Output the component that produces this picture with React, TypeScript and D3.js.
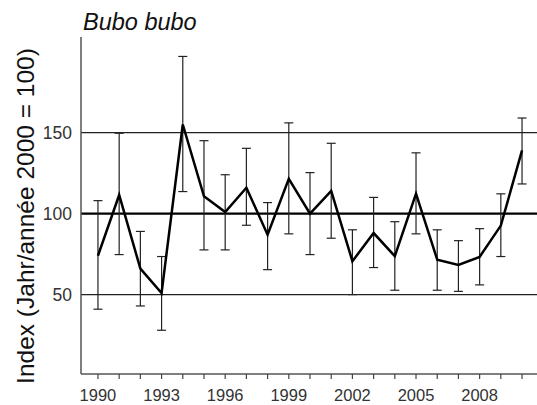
import React from "react";
import * as d3 from "d3";

const years = d3.range(1990, 2011);
const indexValues = [74, 111.5, 66, 51, 155, 110.7, 101, 116, 87, 121.5, 100, 114, 70.6, 88, 73.7, 112.3, 71.6, 68.3, 73.3, 92.6, 139];
const upperValues = [108, 149.6, 89, 73.5, 197, 145, 124, 140.3, 106.8, 156, 125.3, 143.4, 90, 110, 95, 137.5, 90, 83.3, 90.7, 112.2, 159];
const lowerValues = [41, 74.7, 43, 28, 113.6, 77.6, 77.6, 92.8, 65.4, 87.5, 74.7, 84.8, 50, 66.7, 52.7, 87.5, 52.7, 52, 56, 73.5, 118.3];
const yTicks = [50, 100, 150];
const xLabelYears = [1990, 1993, 1996, 1999, 2002, 2005, 2008];
const title = "Bubo bubo";
const yLabel = "Index (Jahr/année 2000 = 100)";

const W = 537;
const H = 405;
const left = 81;
const right = 539;
const top = 37;
const bottom = 374;
const font = "'Liberation Sans', Arial, sans-serif";

export default function App() {
  const x = d3.scalePoint<number>().domain(years).range([left, right]).padding(0.8);
  const y = d3.scaleLinear().domain([1, 209]).range([bottom, top]);
  const line = d3
    .line<number>()
    .x((_, i) => x(years[i]) as number)
    .y((d) => y(d));

  return (
    <div style={{ position: "absolute", left: 0, top: 0 }}>
      <svg width={W} height={H} style={{ display: "block", background: "#fff" }}>
        {yTicks.map((t) => (
          <line
            key={t}
            x1={left}
            x2={W}
            y1={y(t)}
            y2={y(t)}
            stroke={t === 100 ? "#000" : "#222"}
            strokeWidth={t === 100 ? 2.4 : 1.1}
          />
        ))}
        <line x1={left} x2={left} y1={top} y2={bottom} stroke="#555" strokeWidth={1.5} />
        <line x1={left} x2={W} y1={bottom} y2={bottom} stroke="#555" strokeWidth={1.5} />
        {years.map((yr) => (
          <line key={yr} x1={x(yr)} x2={x(yr)} y1={bottom} y2={bottom + 5} stroke="#444" strokeWidth={1.2} />
        ))}
        {xLabelYears.map((yr) => (
          <text
            key={yr}
            x={x(yr)}
            y={401}
            textAnchor="middle"
            fontFamily={font}
            fontSize={16.5}
            fill="#333"
          >
            {yr}
          </text>
        ))}
        {yTicks.map((t) => (
          <text
            key={t}
            x={72}
            y={y(t)}
            dy="0.35em"
            textAnchor="end"
            fontFamily={font}
            fontSize={17.5}
            fill="#333"
          >
            {t}
          </text>
        ))}
        {years.map((yr, i) => {
          const cx = x(yr) as number;
          return (
            <g key={yr} stroke="#222" strokeWidth={1.2}>
              <line x1={cx} x2={cx} y1={y(upperValues[i])} y2={y(lowerValues[i])} />
              <line x1={cx - 4.5} x2={cx + 4.5} y1={y(upperValues[i])} y2={y(upperValues[i])} />
              <line x1={cx - 4.5} x2={cx + 4.5} y1={y(lowerValues[i])} y2={y(lowerValues[i])} />
            </g>
          );
        })}
        <path d={line(indexValues) || ""} fill="none" stroke="#000" strokeWidth={2.5} strokeLinejoin="miter" />
        <text x={83} y={29.5} fontFamily={font} fontStyle="italic" fontSize={23.5} fill="#111">
          {title}
        </text>
        <text
          transform={`translate(33.5, 216) rotate(-90)`}
          textAnchor="middle"
          fontFamily={font}
          fontSize={24.5}
          fill="#111"
        >
          {yLabel}
        </text>
      </svg>
    </div>
  );
}
